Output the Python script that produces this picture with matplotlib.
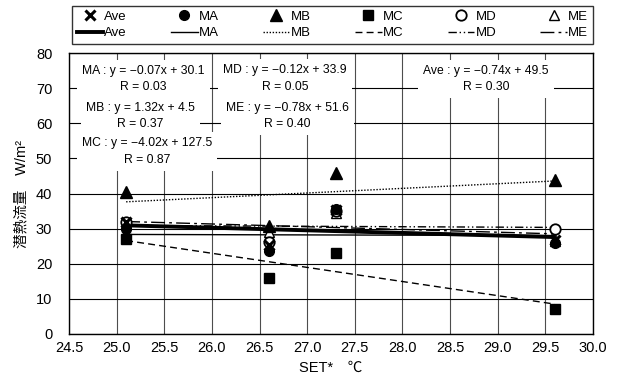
"""潜熱流量とSET*の関係"""

import matplotlib

matplotlib.use("Agg")
import matplotlib.pyplot as plt
from matplotlib.lines import Line2D

plt.rcParams["font.family"] = ["Liberation Sans", "Noto Sans CJK JP", "DejaVu Sans"]
plt.rcParams["axes.unicode_minus"] = True

# データ
set_x = [25.1, 26.6, 27.3, 29.6]
ave = [32.0, 25.2, 35.2, 26.7]
ma = [30.0, 23.5, 35.5, 26.0]
mb = [40.5, 30.8, 45.7, 43.8]
mc = [27.0, 15.8, 23.2, 7.1]
md = [32.0, 26.2, 35.0, 29.8]
me = [31.5, 29.0, 34.5, 26.5]

names = ["Ave", "MA", "MB", "MC", "MD", "ME"]
values = [ave, ma, mb, mc, md, me]

# 回帰式 (傾き, 切片, R)
slopes = [-0.74, -0.07, 1.32, -4.02, -0.12, -0.78]
intercepts = [49.5, 30.1, 4.5, 127.5, 33.9, 51.6]
r_values = [0.30, 0.03, 0.37, 0.87, 0.05, 0.40]

x_ticks = [24.5 + 0.5 * i for i in range(12)]
y_ticks = list(range(0, 90, 10))

# スタイル
marker_styles = [
    dict(marker="x", ms=7.5, mew=2.2, color="black"),
    dict(marker="o", ms=7, mfc="black", mec="black"),
    dict(marker="^", ms=8, mfc="black", mec="black"),
    dict(marker="s", ms=7.5, mfc="black", mec="black"),
    dict(marker="o", ms=7.5, mfc="white", mec="black", mew=1.3),
    dict(marker="^", ms=7.5, mfc="white", mec="black", mew=1.0),
]
line_styles = [
    dict(lw=2.8, ls="-"),
    dict(lw=1.0, ls="-"),
    dict(lw=1.0, ls=(0, (1, 1.2))),
    dict(lw=1.0, ls=(0, (5, 3))),
    dict(lw=1.0, ls=(0, (6, 2, 1, 2, 1, 2))),
    dict(lw=1.0, ls=(0, (10, 3, 2, 3))),
]

fig = plt.figure(figsize=(6.17, 3.85), dpi=100)
ax = fig.add_axes([0.1118, 0.1325, 0.8492, 0.7298])

# 近似直線
x0, x1 = min(set_x), max(set_x)
for i in range(len(names)):
    a, b = slopes[i], intercepts[i]
    ax.plot([x0, x1], [a * x0 + b, a * x1 + b], color="black",
            zorder=3, **line_styles[i])

# 散布点（後ろから描画）
for i in reversed(range(len(names))):
    ax.plot(set_x, values[i], ls="none", zorder=4, **marker_styles[i])

ax.set_xlim(24.5, 30.0)
ax.set_ylim(0, 80)
ax.set_xticks(x_ticks)
ax.set_xticklabels([f"{t:.1f}" for t in x_ticks])
ax.set_yticks(y_ticks)
ax.tick_params(length=0, labelsize=10.5)
ax.tick_params(axis="y", pad=12)
ax.tick_params(axis="x", pad=5)
ax.grid(True, axis="y", color="black", lw=0.8)
ax.grid(True, axis="x", color="0.3", lw=0.8)
for sp in ax.spines.values():
    sp.set_linewidth(1.0)

ax.set_xlabel("SET*　℃", fontsize=10.5, labelpad=4)
ax.set_ylabel("潜熱流量　W/m²", fontsize=10.5, labelpad=5)

# 回帰式の注記
label_pos = [
    (28.88, 72.6),
    (25.28, 72.6),
    (25.25, 62.1),
    (25.32, 51.9),
    (26.77, 72.8),
    (26.79, 62.1),
]
for i, name in enumerate(names):
    a, b = slopes[i], intercepts[i]
    sign = "+" if b >= 0 else "−"
    a_txt = f"{a:.2f}".replace("-", "−")
    text = f"{name} : y = {a_txt}x {sign} {abs(b):.1f}\nR = {r_values[i]:.2f}"
    ax.text(*label_pos[i], text, ha="center", va="center", fontsize=8.7,
            linespacing=1.5, zorder=5,
            bbox=dict(boxstyle="square,pad=0.42", fc="white", ec="none"))

# 凡例（上段：マーカー、下段：線）
handles = []
labels = []
for i, name in enumerate(names):
    handles.append(Line2D([], [], ls="none", **marker_styles[i]))
    labels.append(name)
    handles.append(Line2D([], [], color="black", **line_styles[i]))
    labels.append(name)

leg = fig.legend(
    handles, labels, ncol=6, loc="lower left",
    bbox_to_anchor=(0.1167, 0.886, 0.844, 0.106), mode="expand",
    borderaxespad=0, fontsize=9.5, frameon=True, fancybox=False,
    edgecolor="black", handlelength=2.0, handletextpad=0.1,
    labelspacing=0.3, borderpad=0.35, columnspacing=1.0,
)
leg.get_frame().set_linewidth(1.0)

fig.savefig("out.png", dpi=100)
